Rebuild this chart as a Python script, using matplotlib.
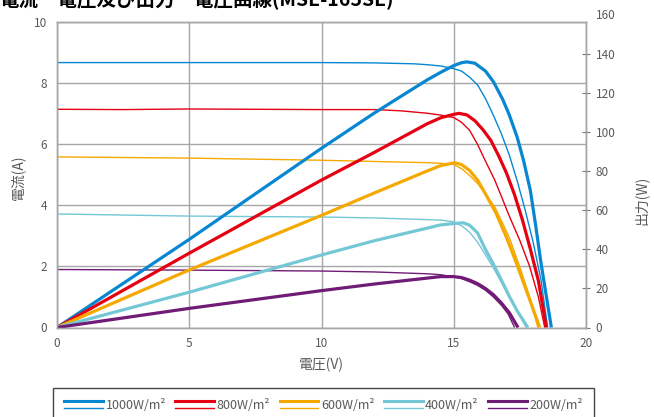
import matplotlib
matplotlib.use("Agg")
import matplotlib.pyplot as plt
from matplotlib.lines import Line2D
from matplotlib.legend_handler import HandlerBase

plt.rcParams['font.family'] = ['Noto Sans CJK JP', 'DejaVu Sans']

# irradiance levels
labels = ["1000W/m²", "800W/m²", "600W/m²", "400W/m²", "200W/m²"]
colors = ["#0787D2", "#E50012", "#F5A900", "#74C8D6", "#701C76"]

# current-voltage curves (A)
iv_v_1000 = [0, 5, 10, 12, 13, 13.5, 14, 14.5, 15, 15.3, 15.6, 15.9, 16.2, 16.5, 16.8,
             17.1, 17.4, 17.7, 18.0, 18.3, 18.55]
iv_i_1000 = [8.68, 8.68, 8.68, 8.67, 8.65, 8.64, 8.61, 8.57, 8.48, 8.4, 8.2, 7.95, 7.5,
             6.95, 6.35, 5.65, 4.8, 3.85, 2.8, 1.55, 0]
iv_v_800 = [0, 2.5, 5, 7.5, 10, 12, 13, 14, 14.5, 15, 15.3, 15.6, 15.9, 16.2, 16.55, 16.8,
            17.1, 17.5, 17.87, 18.2, 18.44]
iv_i_800 = [7.15, 7.14, 7.16, 7.15, 7.14, 7.14, 7.1, 7.02, 6.96, 6.88, 6.72, 6.46, 6.0,
            5.45, 4.83, 4.3, 3.65, 2.85, 2.0, 1.0, 0]
iv_v_600 = [0, 5, 10, 12, 14, 14.5, 15, 15.3, 15.6, 15.9, 16.2, 16.55, 16.8, 17.1, 17.49,
            17.85, 18.18]
iv_i_600 = [5.59, 5.55, 5.48, 5.44, 5.4, 5.38, 5.34, 5.2, 4.98, 4.72, 4.38, 3.95, 3.5,
            2.95, 2.0, 1.05, 0]
iv_v_400 = [0, 5, 10, 12, 14.5, 15, 15.3, 15.6, 15.9, 16.2, 16.5, 16.85, 17.1, 17.4, 17.74]
iv_i_400 = [3.72, 3.65, 3.62, 3.59, 3.52, 3.46, 3.33, 3.12, 2.8, 2.38, 1.95, 1.4, 1.0,
            0.55, 0]
iv_v_200 = [0, 5, 10, 12, 14, 14.5, 15, 15.3, 15.6, 15.9, 16.2, 16.5, 16.8, 17.05, 17.3]
iv_i_200 = [1.9, 1.88, 1.85, 1.82, 1.76, 1.73, 1.66, 1.6, 1.5, 1.38, 1.22, 1.0, 0.73,
            0.45, 0]

# power-voltage curves (W)
pv_v_1000 = [0, 5, 10, 12, 13, 14, 14.5, 15, 15.3, 15.5, 15.8, 16.2, 16.5, 16.85, 17.1,
             17.4, 17.65, 17.9, 18.1, 18.3, 18.5, 18.69]
pv_p_1000 = [0, 45.2, 91.9, 110, 118.5, 127, 130.8, 134.3, 135.8, 136.2, 135.5, 131.5,
             126, 117, 109, 97.5, 85, 70, 52, 33, 16, 0]
pv_v_800 = [0, 5, 10, 12, 14, 14.5, 15, 15.2, 15.5, 15.8, 16.1, 16.4, 16.7, 17.0, 17.3,
            17.6, 17.9, 18.2, 18.5]
pv_p_800 = [0, 38.1, 75.6, 89.8, 104.5, 107.5, 109.3, 109.8, 109, 106, 101.5, 96, 88,
            79, 68, 55, 40, 24, 0]
pv_v_600 = [0, 5, 10, 12, 14, 14.5, 15.04, 15.3, 15.6, 15.9, 16.2, 16.6, 17.0, 17.37,
            17.8, 18.25]
pv_p_600 = [0, 29.5, 57.5, 69, 80.3, 83, 84.5, 83.5, 80.5, 75.6, 68.5, 58.6, 46, 33,
            17, 0]
pv_v_400 = [0, 5, 10, 12, 14.5, 15, 15.35, 15.6, 15.9, 16.2, 16.5, 16.86, 17.1, 17.4, 17.8]
pv_p_400 = [0, 18.1, 37.2, 44.5, 52.6, 53.3, 53.7, 52.5, 48.5, 40, 32.5, 22.7, 16, 8.5, 0]
pv_v_200 = [0, 5, 10, 12, 14.5, 15, 15.3, 15.6, 15.9, 16.2, 16.5, 16.8, 17.1, 17.43]
pv_p_200 = [0, 9.8, 18.9, 22.3, 26.1, 26.1, 25.6, 24.3, 22.5, 20.0, 16.8, 12.6, 7.6, 0]

iv_curves = [(iv_v_1000, iv_i_1000), (iv_v_800, iv_i_800), (iv_v_600, iv_i_600),
             (iv_v_400, iv_i_400), (iv_v_200, iv_i_200)]
pv_curves = [(pv_v_1000, pv_p_1000), (pv_v_800, pv_p_800), (pv_v_600, pv_p_600),
             (pv_v_400, pv_p_400), (pv_v_200, pv_p_200)]

x_ticks = [0, 5, 10, 15, 20]
i_ticks = [0, 2, 4, 6, 8, 10]
p_ticks = [0, 20, 40, 60, 80, 100, 120, 140]

title = "電流ー電圧及び出力ー電圧曲線(MSE-165SE)"
gray = "#a6a6a6"
text_gray = "#595959"


class DoubleLineHandler(HandlerBase):
    """Thick line over a thin line, as in the original legend."""

    def create_artists(self, legend, orig_handle, xdescent, ydescent,
                       width, height, fontsize, trans):
        c = orig_handle.get_color()
        xs = [-xdescent, width - xdescent]
        top = Line2D(xs, [height * 0.95 - ydescent] * 2, color=c, lw=2.2, transform=trans)
        bot = Line2D(xs, [height * 0.12 - ydescent] * 2, color=c, lw=1.0, transform=trans)
        return [top, bot]


fig = plt.figure(figsize=(6.54, 4.17), dpi=100)
ax = fig.add_axes([57 / 654, 1 - 327.5 / 417, 529 / 654, 305.2 / 417])
ax2 = ax.twinx()

for (v, i), c in zip(iv_curves, colors):
    ax.plot(v, i, color=c, lw=1.0, solid_capstyle='butt', solid_joinstyle='round')

power_lines = []
for (v, p), c in zip(pv_curves, colors):
    ln, = ax2.plot(v, p, color=c, lw=2.3, solid_capstyle='butt', solid_joinstyle='round')
    power_lines.append(ln)

ax.set_xlim(0, 20)
ax.set_ylim(0, 10)
ax2.set_ylim(0, 156.5)
ax.set_xticks(x_ticks)
ax.set_yticks(i_ticks)
ax2.set_yticks(p_ticks)

ax.grid(True, color=gray, lw=1.0)
for a in (ax, ax2):
    for s in a.spines.values():
        s.set_color(gray)
        s.set_linewidth(1.0)

ax.tick_params(axis='both', length=0, labelsize=8.5, labelcolor=text_gray)
ax.tick_params(axis='y', pad=7)
ax.tick_params(axis='x', pad=7)
ax2.tick_params(axis='y', direction='inout', length=6, color="#777777",
                labelsize=8.5, labelcolor=text_gray, pad=4)
# the 160 label sits above the frame
ax2.text(1.0 + 10 / 529, 160, "160", transform=ax2.get_yaxis_transform(),
         fontsize=8.5, color=text_gray, va='center', ha='left', clip_on=False)

ax.set_xlabel("電圧(V)", fontsize=10, color=text_gray)
ax.set_ylabel("電流(A)", fontsize=10, color=text_gray)
ax2.set_ylabel("出力(W)", fontsize=10, color=text_gray, rotation=90)
ax.xaxis.set_label_coords(0.5, -(358 - 327.5) / 305.2)
ax.yaxis.set_label_coords(-32 / 529, (327.5 - 177) / 305.2)
ax2.yaxis.set_label_coords(1 + 48 / 529, (327.5 - 200) / 305.2)

fig.text(0.0, 1 - 5 / 417, title, fontsize=14, fontweight='bold', color='black',
         ha='left', va='baseline')

leg = fig.legend(power_lines, labels, loc='upper left',
                 bbox_to_anchor=(53 / 654, 0.0, 541 / 654, 1 - 388 / 417),
                 mode='expand', ncol=5, fontsize=9, labelcolor=text_gray,
                 handler_map={Line2D: DoubleLineHandler()},
                 handlelength=3.1, handletextpad=0.2, borderpad=0.9,
                 borderaxespad=0, fancybox=False, framealpha=1)
leg.get_frame().set_edgecolor("#444444")
leg.get_frame().set_linewidth(1.0)

fig.savefig("out.png", dpi=100)
